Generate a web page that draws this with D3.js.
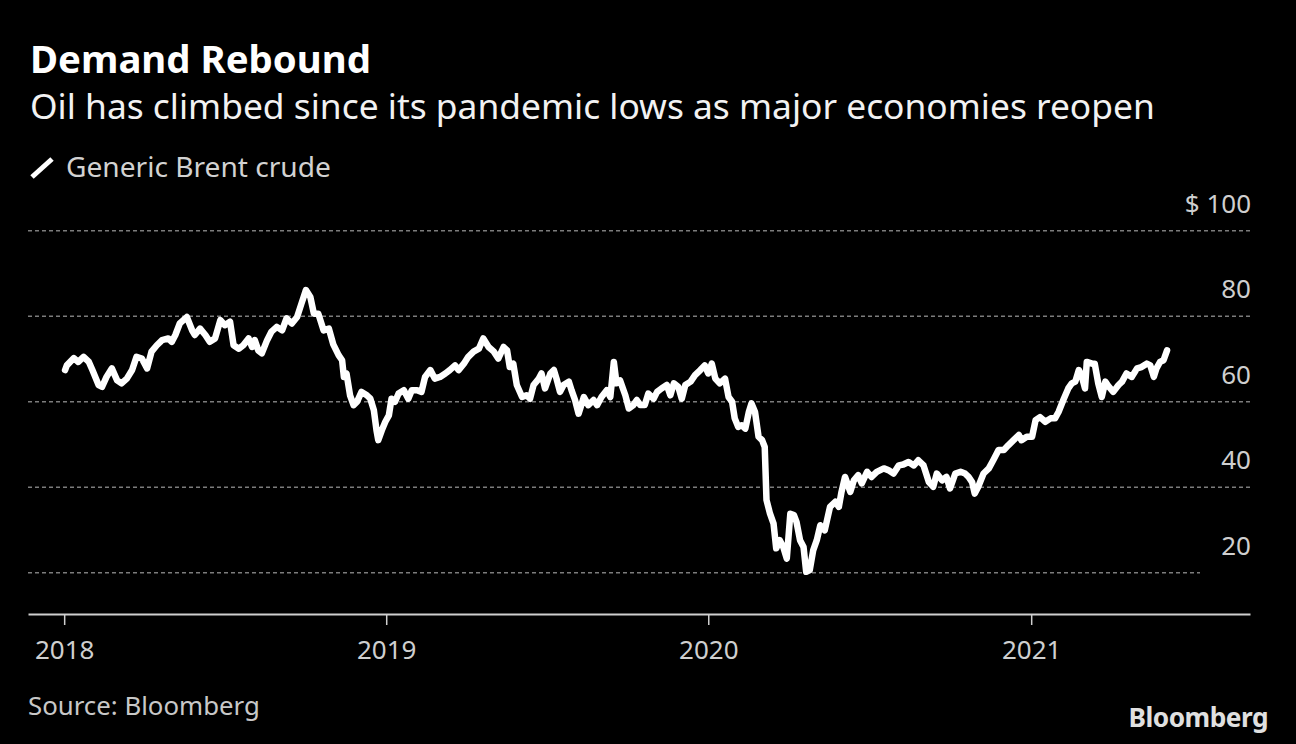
<!DOCTYPE html>
<meta charset="utf-8">
<style>

body {
  margin: 0;
  background: #000;
}

text {
  font-family: "Noto Sans", sans-serif;
}

.grid line {
  stroke: #7c7c7c;
  stroke-width: 1.6;
  stroke-dasharray: 4,3;
}

.price {
  fill: none;
  stroke: #fff;
  stroke-width: 6.5;
  stroke-linejoin: round;
  stroke-linecap: round;
}

.x-axis path,
.x-axis line {
  stroke: #cfcfcf;
}

.x-axis path {
  stroke-width: 2;
}

.x-axis line {
  stroke-width: 1.5;
}

</style>
<svg width="1296" height="744"></svg>
<script src="https://cdn.jsdelivr.net/npm/d3@7/dist/d3.min.js"></script>
<script>

// Generic Brent crude (USD / barrel)
var dates = [
  "2018-01-02","2018-01-04","2018-01-12","2018-01-17","2018-01-23","2018-01-29","2018-02-02","2018-02-09","2018-02-13","2018-02-18",
  "2018-02-24","2018-03-02","2018-03-07","2018-03-13","2018-03-19","2018-03-24","2018-03-30","2018-04-05","2018-04-10","2018-04-16",
  "2018-04-22","2018-04-29","2018-05-03","2018-05-07","2018-05-12","2018-05-20","2018-05-26","2018-05-29","2018-06-04","2018-06-10",
  "2018-06-15","2018-06-21","2018-06-27","2018-07-02","2018-07-08","2018-07-12","2018-07-18","2018-07-23","2018-07-29","2018-08-02",
  "2018-08-05","2018-08-09","2018-08-13","2018-08-19","2018-08-24","2018-08-30","2018-09-05","2018-09-10","2018-09-16","2018-09-22",
  "2018-09-27","2018-10-02","2018-10-07","2018-10-11","2018-10-16","2018-10-22","2018-10-28","2018-11-02","2018-11-08","2018-11-12",
  "2018-11-14","2018-11-17","2018-11-21","2018-11-25","2018-11-29","2018-12-04","2018-12-10","2018-12-14","2018-12-18","2018-12-21",
  "2018-12-23","2018-12-27","2018-12-31","2019-01-04","2019-01-07","2019-01-11","2019-01-15","2019-01-21","2019-01-26","2019-01-30",
  "2019-02-05","2019-02-10","2019-02-14","2019-02-20","2019-02-25","2019-03-03","2019-03-09","2019-03-14","2019-03-20","2019-03-24",
  "2019-03-30","2019-04-04","2019-04-10","2019-04-16","2019-04-21","2019-04-27","2019-05-03","2019-05-08","2019-05-14","2019-05-18",
  "2019-05-21","2019-05-25","2019-05-29","2019-06-04","2019-06-09","2019-06-13","2019-06-17","2019-06-23","2019-06-26","2019-06-30",
  "2019-07-06","2019-07-10","2019-07-13","2019-07-17","2019-07-21","2019-07-27","2019-07-30","2019-08-03","2019-08-07","2019-08-13",
  "2019-08-18","2019-08-24","2019-08-28","2019-09-02","2019-09-08","2019-09-12","2019-09-16","2019-09-19","2019-09-23","2019-09-29",
  "2019-10-03","2019-10-08","2019-10-12","2019-10-16","2019-10-21","2019-10-25","2019-10-31","2019-11-04","2019-11-09","2019-11-15",
  "2019-11-19","2019-11-23","2019-11-28","2019-12-02","2019-12-06","2019-12-12","2019-12-17","2019-12-23","2019-12-28","2020-01-01",
  "2020-01-05","2020-01-09","2020-01-14","2020-01-20","2020-01-24","2020-01-28","2020-01-31","2020-02-04","2020-02-08","2020-02-12",
  "2020-02-16","2020-02-19","2020-02-23","2020-02-27","2020-03-02","2020-03-05","2020-03-07","2020-03-11","2020-03-15","2020-03-18",
  "2020-03-22","2020-03-26","2020-03-30","2020-04-03","2020-04-07","2020-04-10","2020-04-14","2020-04-18","2020-04-21","2020-04-25",
  "2020-04-29","2020-05-03","2020-05-07","2020-05-12","2020-05-18","2020-05-24","2020-05-28","2020-05-31","2020-06-04","2020-06-10",
  "2020-06-14","2020-06-19","2020-06-23","2020-06-29","2020-07-04","2020-07-10","2020-07-18","2020-07-23","2020-07-29","2020-08-04",
  "2020-08-09","2020-08-15","2020-08-21","2020-08-26","2020-09-01","2020-09-07","2020-09-12","2020-09-16","2020-09-22","2020-09-27",
  "2020-10-01","2020-10-07","2020-10-13","2020-10-18","2020-10-22","2020-10-26","2020-10-29","2020-11-02","2020-11-08","2020-11-14",
  "2020-11-19","2020-11-25","2020-12-01","2020-12-06","2020-12-12","2020-12-18","2020-12-21","2020-12-27","2021-01-02","2021-01-06",
  "2021-01-11","2021-01-17","2021-01-23","2021-01-28","2021-02-01","2021-02-07","2021-02-12","2021-02-16","2021-02-20","2021-02-24",
  "2021-02-27","2021-03-03","2021-03-05","2021-03-11","2021-03-14","2021-03-18","2021-03-22","2021-03-26","2021-03-30","2021-04-04",
  "2021-04-10","2021-04-14","2021-04-19","2021-04-25","2021-05-01","2021-05-06","2021-05-12","2021-05-16","2021-05-20","2021-05-23",
  "2021-05-27","2021-05-31","2021-06-04"
];

var brent = [
  67.4,68.5,70.2,69.3,70.5,69.3,67.4,63.9,63.5,65.8,
  67.8,65.0,64.3,65.4,67.4,70.5,70.1,67.8,71.7,73.2,
  74.4,74.8,74.0,75.6,78.3,79.8,76.7,75.6,77.1,75.6,
  74.0,74.8,79.1,77.9,78.7,73.2,72.4,73.2,74.8,72.8,
  74.4,72.0,71.3,74.4,76.4,77.5,76.7,79.5,78.3,79.8,
  83.0,86.1,84.5,80.6,80.6,76.7,77.1,73.4,70.9,69.7,
  65.8,66.6,61.5,59.2,60.0,62.3,61.5,60.7,58.0,53.3,
  51.0,53.3,55.3,56.8,60.7,60.0,61.9,62.7,60.7,62.7,
  62.7,62.3,65.8,67.4,65.4,65.8,66.6,67.4,68.5,67.4,
  68.9,70.5,71.7,72.4,74.8,72.8,71.7,70.1,72.8,72.0,
  68.1,68.9,63.9,61.1,61.5,60.7,63.9,65.4,66.6,63.1,
  66.6,67.4,65.4,62.3,63.9,64.7,62.7,60.4,57.2,61.1,
  59.2,60.4,59.2,61.1,62.7,61.1,69.3,64.3,65.0,61.5,
  58.4,59.2,60.4,59.2,59.2,61.9,60.7,62.3,63.1,63.9,
  61.5,64.3,63.5,60.7,63.9,64.7,66.2,67.4,68.5,66.6,
  68.9,65.4,64.3,65.4,61.1,60.0,56.1,54.1,54.5,53.7,
  57.6,59.6,57.6,51.8,51.0,49.4,37.0,33.8,31.5,25.7,
  27.6,26.0,23.3,33.8,33.5,31.9,27.6,26.0,20.2,20.6,
  25.3,27.6,31.1,29.9,35.4,36.6,35.4,38.9,42.4,38.9,
  41.6,42.8,40.9,43.6,42.4,43.6,44.4,44.0,43.2,45.1,
  45.3,45.9,45.1,46.3,45.1,41.2,40.1,43.2,41.6,42.4,
  39.7,43.2,43.6,43.2,42.4,41.2,38.5,40.1,43.2,44.4,
  46.3,48.7,48.7,49.8,51.0,52.2,51.0,51.8,51.8,55.7,
  56.4,55.3,56.1,56.1,57.6,60.7,63.1,64.3,64.7,67.4,
  66.2,63.1,69.3,68.9,68.9,64.3,61.1,64.7,63.5,62.3,
  63.9,64.7,66.6,65.8,67.8,68.1,68.9,68.5,65.8,67.8,
  69.3,69.7,72.0
];

var yTicks = [20, 40, 60, 80, 100];
var xTicks = ["2018-01-01", "2019-01-01", "2020-01-01", "2021-01-01"];

var title = "Demand Rebound",
    subtitle = "Oil has climbed since its pandemic lows as major economies reopen",
    seriesName = "Generic Brent crude",
    source = "Source: Bloomberg";

var parseDate = d3.timeParse("%Y-%m-%d");

var data = dates.map(function(d, i) {
  return {date: parseDate(d), value: brent[i]};
});

var svg = d3.select("svg"),
    width = +svg.attr("width"),
    height = +svg.attr("height");

var left = 28, right = 1250;

var x = d3.scaleTime()
    .domain([parseDate("2017-11-21"), parseDate("2021-09-06")])
    .range([left, right]);

var y = d3.scaleLinear()
    .domain([20, 100])
    .range([572.7, 230.7]);

svg.append("rect")
    .attr("width", width)
    .attr("height", height)
    .attr("fill", "#000");

// scale a text's font size so it spans the wanted width
function fit(sel, w) {
  var fs = parseFloat(sel.attr("font-size"));
  sel.attr("font-size", fs * w / sel.node().getComputedTextLength());
}

svg.append("text")
    .attr("x", 30)
    .attr("y", 73)
    .attr("fill", "#fff")
    .attr("font-weight", "bold")
    .attr("font-size", 36)
    .text(title)
    .call(fit, 341);

svg.append("text")
    .attr("x", 30)
    .attr("y", 119)
    .attr("fill", "#f2f2f2")
    .attr("font-size", 31)
    .text(subtitle)
    .call(fit, 1125);

// legend
svg.append("line")
    .attr("x1", 32).attr("y1", 177)
    .attr("x2", 52).attr("y2", 159)
    .attr("stroke", "#fff")
    .attr("stroke-width", 5);

svg.append("text")
    .attr("x", 66)
    .attr("y", 177)
    .attr("fill", "#d2d2d2")
    .attr("font-size", 26)
    .text(seriesName)
    .call(fit, 265);

// grid
var grid = svg.append("g").attr("class", "grid");

grid.selectAll("line")
  .data(yTicks)
  .enter().append("line")
    .attr("x1", left)
    .attr("x2", function(d) { return d == 20 ? 1200 : right; })
    .attr("y1", function(d) { return y(d); })
    .attr("y2", function(d) { return y(d); });

svg.append("g")
  .selectAll("text")
  .data(yTicks)
  .enter().append("text")
    .attr("x", 1251)
    .attr("y", function(d) { return y(d) - 18; })
    .attr("text-anchor", "end")
    .attr("fill", "#cfcfcf")
    .attr("font-size", 26)
    .text(function(d) { return d == 100 ? "$ " + d : d; });

// x axis
var xAxis = d3.axisBottom(x)
    .tickValues(xTicks.map(parseDate))
    .tickFormat(d3.timeFormat("%Y"))
    .tickSize(11)
    .tickSizeOuter(0)
    .tickPadding(16);

svg.append("g")
    .attr("class", "x-axis")
    .attr("transform", "translate(0,614)")
    .call(xAxis)
    .call(function(g) {
      g.selectAll("text")
          .attr("fill", "#cfcfcf")
          .attr("font-size", 26)
          .attr("font-family", "Noto Sans, sans-serif");
    });

// price line
var line = d3.line()
    .x(function(d) { return x(d.date); })
    .y(function(d) { return y(d.value); });

svg.append("path")
    .datum(data)
    .attr("class", "price")
    .attr("d", line);

// footer
svg.append("text")
    .attr("x", 28)
    .attr("y", 715)
    .attr("fill", "#c8c8c8")
    .attr("font-size", 25)
    .text(source)
    .call(fit, 232);

svg.append("text")
    .attr("x", 1268)
    .attr("y", 727)
    .attr("text-anchor", "end")
    .attr("fill", "#e0e0e0")
    .attr("font-weight", "bold")
    .attr("font-family", "Liberation Sans Narrow, sans-serif")
    .attr("font-size", 29)
    .attr("letter-spacing", -0.5)
    .text("Bloomberg")
    .call(fit, 140);

</script>
